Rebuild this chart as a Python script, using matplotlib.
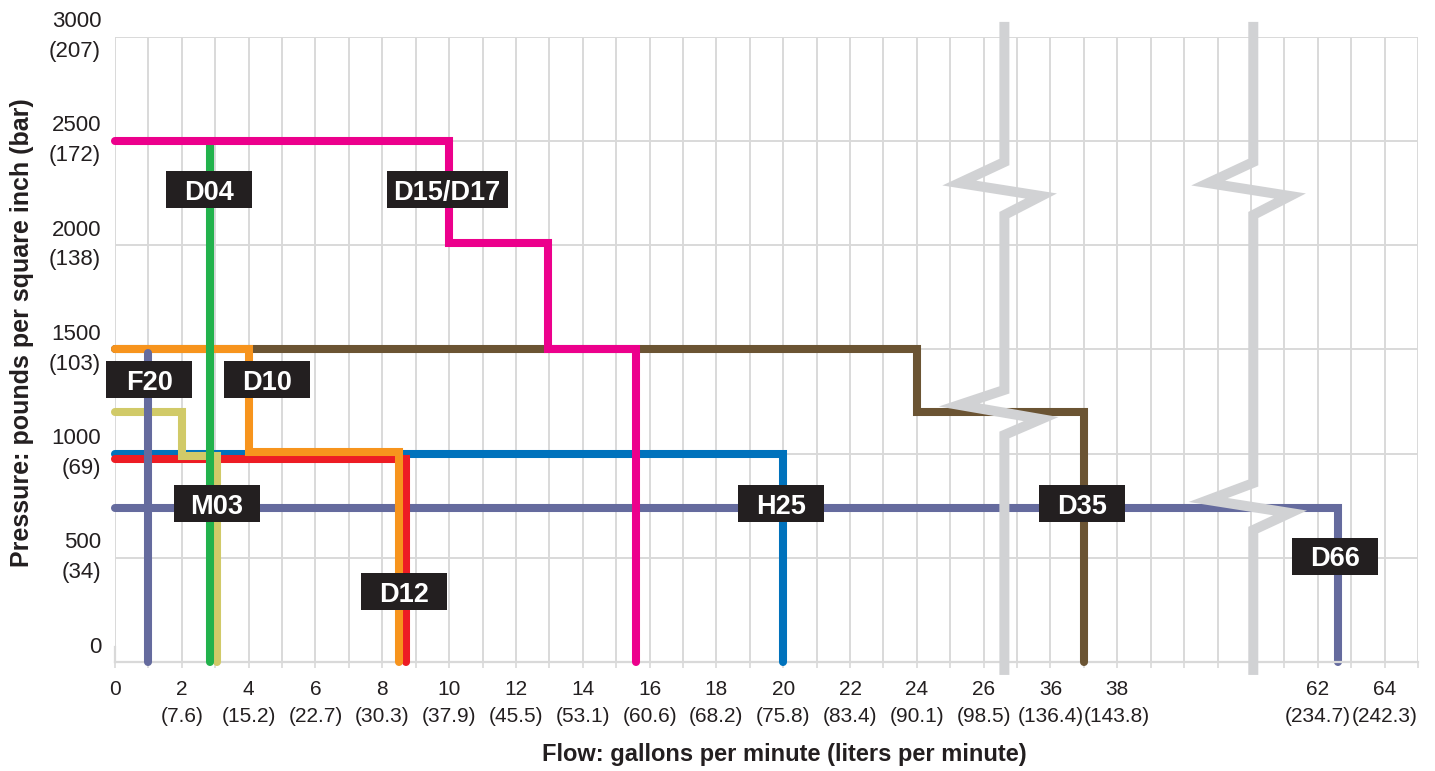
import numpy as np
import matplotlib
matplotlib.use("Agg")
import matplotlib.pyplot as plt
from matplotlib.patches import Rectangle

plt.rcParams['font.family'] = ['Liberation Sans', 'DejaVu Sans']

# ---------------- data ----------------
gpm_ticks = [0, 2, 4, 6, 8, 10, 12, 14, 16, 18, 20, 22, 24, 26, 36, 38, 62, 64]
lpm_ticks = ["", "7.6", "15.2", "22.7", "30.3", "37.9", "45.5", "53.1", "60.6",
             "68.2", "75.8", "83.4", "90.1", "98.5", "136.4", "143.8", "234.7", "242.3"]
psi_ticks = [0, 500, 1000, 1500, 2000, 2500, 3000]
bar_ticks = ["", "34", "69", "103", "138", "172", "207"]

d66_flow = [0, 62.6, 62.6]
d66_psi = [740, 740, 0]
h25_flow = [0, 20, 20]
h25_psi = [1000, 1000, 0]
d35_flow = [0, 24, 24, 37, 37]
d35_psi = [1500, 1500, 1200, 1200, 0]
d12_flow = [0, 8.7, 8.7]
d12_psi = [975, 975, 0]
d10_flow = [0, 4, 4, 8.5, 8.5]
d10_psi = [1500, 1500, 1005, 1005, 0]
m03_flow = [0, 2, 2, 3.05, 3.05]
m03_psi = [1200, 1200, 990, 990, 0]
d04_flow = [2.83, 2.83]
d04_psi = [2500, 0]
d1517_flow = [0, 10, 10, 12.95, 12.95, 15.6, 15.6]
d1517_psi = [2500, 2500, 2010, 2010, 1500, 1500, 0]
f20_flow = [1.0, 1.0]
f20_psi = [1480, 0]

label_names = ["D04", "D15/D17", "F20", "D10", "M03", "D12", "H25", "D35", "D66"]
label_flow = [2.81, 9.94, 1.02, 4.55, 3.05, 8.65, 19.94, 36.95, 62.53]
label_psi = [2264, 2264, 1353, 1353, 758, 336, 758, 758, 508]


# broken flow axis: 0-26 linear, 36-38 shifted, 62-64 shifted
def to_pos(f):
    f = np.asarray(f, dtype=float)
    return np.where(f <= 30, f, np.where(f <= 50, f - 8, f - 26))


# ---------------- figure ----------------
W, H = 1435, 771
fig = plt.figure(figsize=(W / 100, H / 100), dpi=100)
ax = fig.add_axes([115 / W, (H - 662) / H, (1418 - 115) / W, (662 - 36.5) / H])

ax.set_xlim(0, 39)
ax.set_ylim(0, 3000)

grid_c = '#D9D9D9'
text_c = '#231F20'

# ticks
major_pos = to_pos(gpm_ticks)
xt_labels = [f"{g}" if l == "" else f"{g}\n({l})" for g, l in zip(gpm_ticks, lpm_ticks)]
ax.set_xticks(major_pos, xt_labels)
minor = [p for p in range(0, 40) if p not in list(major_pos)]
ax.set_xticks(minor, minor=True)
ax.tick_params(axis='x', which='both', length=4, width=1.2, color=grid_c,
               pad=9, labelsize=15, labelcolor=text_c)
for lab in ax.get_xticklabels():
    lab.set_linespacing(1.5)

yt_labels = [f"{p}\n " if b == "" else f"{p}\n({b})" for p, b in zip(psi_ticks, bar_ticks)]
ax.set_yticks(psi_ticks, yt_labels)
ax.tick_params(axis='y', length=0, pad=10, labelsize=16, labelcolor=text_c)
for lab in ax.get_yticklabels():
    lab.set_va('center')
    lab.set_linespacing(1.55)

# grid
ax.grid(True, axis='x', which='both', color=grid_c, lw=1.4, zorder=0)
ax.grid(True, axis='y', which='major', color=grid_c, lw=1.4, zorder=0)
ax.set_axisbelow(True)
for s in ['top', 'right']:
    ax.spines[s].set_visible(False)
ax.spines['bottom'].set_color(grid_c)
ax.spines['bottom'].set_linewidth(1.6)
ax.spines['left'].set_color(grid_c)
ax.spines['left'].set_linewidth(1.6)
ax.spines['left'].set_bounds(0, 70)

# series
LW = 5.8
series = [
    (d66_flow, d66_psi, '#656B9E', 2),
    (h25_flow, h25_psi, '#0072BC', 3),
    (d35_flow, d35_psi, '#6B5433', 3.5),
    (d12_flow, d12_psi, '#ED1C24', 4),
    (d10_flow, d10_psi, '#F7941D', 5),
    (m03_flow, m03_psi, '#D1CA68', 6),
    (d04_flow, d04_psi, '#22B24C', 6.5),
    (d1517_flow, d1517_psi, '#EC008C', 7),
    (f20_flow, f20_psi, '#656B9E', 7.5),
]
for fl, ps, col, z in series:
    ax.plot(to_pos(fl), ps, color=col, lw=LW, solid_capstyle='round',
            solid_joinstyle='miter', clip_on=False, zorder=z)

# axis break markers
def break_path(x0, zigs, top=3070, bottom=-62, left=-1.35, right=1.1):
    xs, ys = [x0], [top]
    for yt, yl, yr, yb in zigs:
        xs += [x0, x0 + left, x0 + right, x0]
        ys += [yt, yl, yr, yb]
    xs.append(x0)
    ys.append(bottom)
    return xs, ys

for x0, zigs in [(26.62, [(2398, 2297, 2235, 2144), (1305, 1233, 1165, 1089)]),
                 (34.07, [(2398, 2297, 2235, 2144), (858, 777, 715, 633)])]:
    bx, by = break_path(x0, zigs)
    ax.plot(bx, by, color='#D1D2D4', lw=7.2, solid_capstyle='butt',
            solid_joinstyle='miter', clip_on=False, zorder=9)

# labels
px_x = 33.4   # px per flow unit
px_y = 0.2085  # px per psi
for name, fl, ps in zip(label_names, label_flow, label_psi):
    xp = float(to_pos(fl))
    wpx = 121 if "/" in name else 86
    w = wpx / px_x
    h = 37 / px_y
    ax.add_patch(Rectangle((xp - w / 2, ps - h / 2), w, h, facecolor='#231F20',
                           edgecolor='none', zorder=10, clip_on=False))
    ax.text(xp, ps, name, color='white', fontsize=19.5, fontweight='bold',
            ha='center', va='center_baseline', zorder=11)

# axis titles
fig.text(784 / W, 1 - 755 / H, "Flow: gallons per minute (liters per minute)",
         ha='center', va='center', fontsize=17, fontweight='bold', color=text_c)
fig.text(22 / W, 1 - 333 / H, "Pressure: pounds per square inch (bar)",
         ha='center', va='center', rotation=90, fontsize=18, fontweight='bold',
         color=text_c)

fig.savefig("out.png", dpi=100)
